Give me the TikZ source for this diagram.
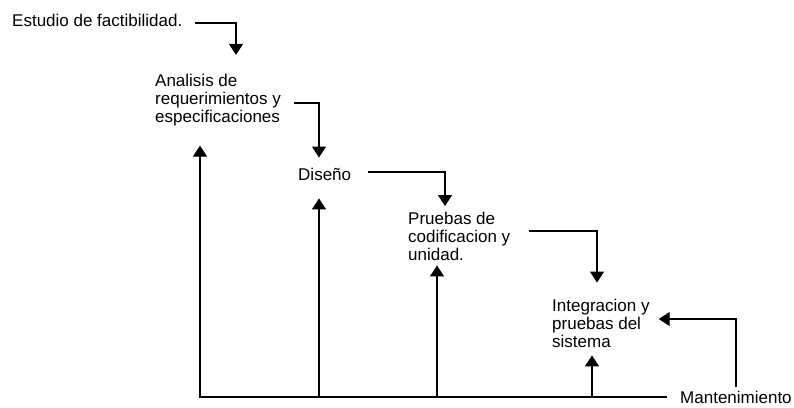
\documentclass[tikz,border=0pt]{standalone}
\usepackage{fontspec}
\setmainfont{Liberation Sans}
\usetikzlibrary{positioning}
\usetikzlibrary{calc}
\usetikzlibrary{arrows.meta}

\tikzset{
  etapa/.style={anchor=west,align=left,inner sep=2pt,font=\fontsize{17}{18}\selectfont},
  flecha/.style={-{Triangle[width=14pt,length=11pt]},line width=1.1pt}
}

\begin{document}
\begin{tikzpicture}[
  x=1pt,y=-1pt
  ]
  \useasboundingbox (0,0) rectangle (794,407);
  \node (estudio)       [etapa] at (10,20)   {Estudio de factibilidad.};
  \node (analisis)      [etapa] at (153,100) {Analisis de\\requerimientos y\\especificaciones};
  \node (diseno)        [etapa] at (296,174) {Diseño};
  \node (pruebas)       [etapa] at (406,236) {Pruebas de\\codificacion y\\unidad.};
  \node (integracion)   [etapa] at (550,323) {Integracion y\\pruebas del\\sistema};
  \node (mantenimiento) [etapa] at (678,397) {Mantenimiento};

  \draw[flecha] ([xshift=10pt,yshift=-3pt]estudio.east) -| ([xshift=83pt,yshift=17pt]analisis.north west);
  \draw[flecha] ([xshift=11pt,yshift=-3pt]analisis.east) -| ([xshift=23pt,yshift=8pt]diseno.north west);
  \draw[flecha] ([xshift=14.5pt,yshift=2pt]diseno.east) -| ([xshift=39pt,yshift=3.5pt]pruebas.north west);
  \draw[flecha] ([xshift=17pt,yshift=5pt]pruebas.east) -| ([xshift=47pt,yshift=14pt]integracion.north west);
  \draw[flecha] ([yshift=2pt]mantenimiento.north) |- ([xshift=7pt,yshift=4pt]integracion.east);

  % retorno
  \draw[flecha] ([xshift=-11pt]mantenimiento.west) -| ([xshift=47pt,yshift=-17.5pt]analisis.south west);
  \draw[flecha] ([xshift=23pt]diseno.south west |- mantenimiento.west) -- ([xshift=23pt,yshift=-16pt]diseno.south west);
  \draw[flecha] ([xshift=31pt]pruebas.south west |- mantenimiento.west) -- ([xshift=31pt,yshift=-3pt]pruebas.south west);
  \draw[flecha] ([xshift=42pt]integracion.south west |- mantenimiento.west) -- ([xshift=42pt,yshift=-6pt]integracion.south west);
\end{tikzpicture}
\end{document}
